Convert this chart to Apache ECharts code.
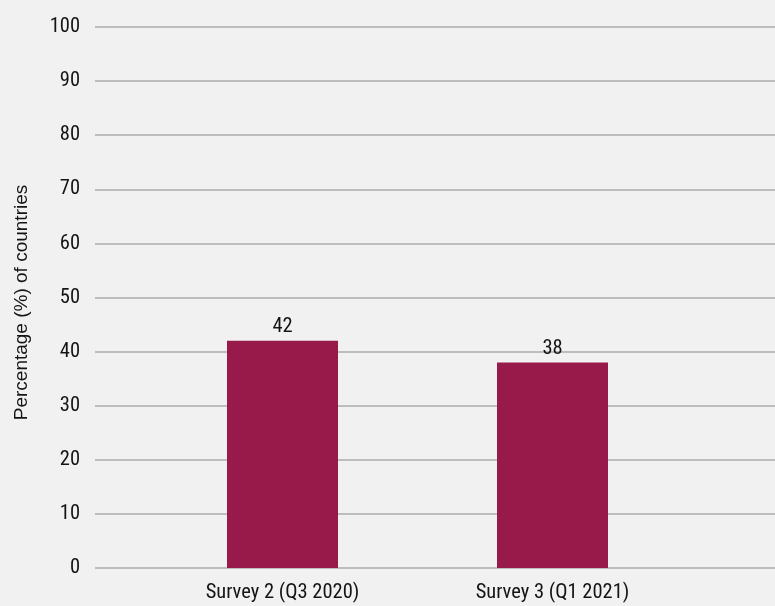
<!DOCTYPE html>
<html>
<head>
<meta charset="utf-8">
<script src="https://cdn.jsdelivr.net/npm/echarts@6/dist/echarts.min.js"></script>
<style>
  html, body { margin: 0; padding: 0; background: #f1f1f1; }
  #chart { width: 775px; height: 606px; }
</style>
</head>
<body>
<div id="chart"></div>
<script>
const categories = ['Survey 2 (Q3 2020)', 'Survey 3 (Q1 2021)'];
const values = [42, 38];
const yTicks = { min: 0, max: 100, interval: 10 };

const narrow = '"Roboto Condensed", Roboto, sans-serif';
const chart = echarts.init(document.getElementById('chart'));

chart.setOption({
  backgroundColor: '#f1f1f1',
  animation: false,
  grid: [
    // full-width grid carrying the horizontal rules and tick labels
    { left: 95, right: 0, top: 27, bottom: 38 },
    // narrower grid holding the bars
    { left: 147.5, right: 87.5, top: 27, bottom: 38 }
  ],
  xAxis: [
    { gridIndex: 0, type: 'value', show: false, min: 0, max: 1 },
    {
      gridIndex: 1, type: 'category', data: categories,
      axisLine: { show: false }, axisTick: { show: false },
      axisLabel: { color: '#141414', fontFamily: narrow, fontSize: 20.5, margin: 14 }
    }
  ],
  yAxis: [
    {
      gridIndex: 0, type: 'value', min: yTicks.min, max: yTicks.max, interval: yTicks.interval,
      name: 'Percentage (%) of countries', nameLocation: 'middle', nameGap: 64,
      nameTextStyle: {
        color: '#141414', fontFamily: '"Liberation Sans", Arial, sans-serif', fontSize: 19,
        padding: [0, 10, 0, 0]
      },
      axisLine: { show: false }, axisTick: { show: false },
      axisLabel: { color: '#141414', fontFamily: narrow, fontSize: 20.5, margin: 15 },
      splitLine: { lineStyle: { color: '#ababab', width: 1.5 } }
    },
    {
      gridIndex: 1, type: 'value', min: yTicks.min, max: yTicks.max, interval: yTicks.interval,
      show: false, splitLine: { show: false }
    }
  ],
  series: [{
    type: 'bar',
    xAxisIndex: 1, yAxisIndex: 1,
    data: values,
    barWidth: 111,
    itemStyle: { color: '#981a4a' },
    label: {
      show: true, position: 'top', distance: 3,
      color: '#141414', fontFamily: narrow, fontSize: 20.5
    }
  }]
});
</script>
</body>
</html>
